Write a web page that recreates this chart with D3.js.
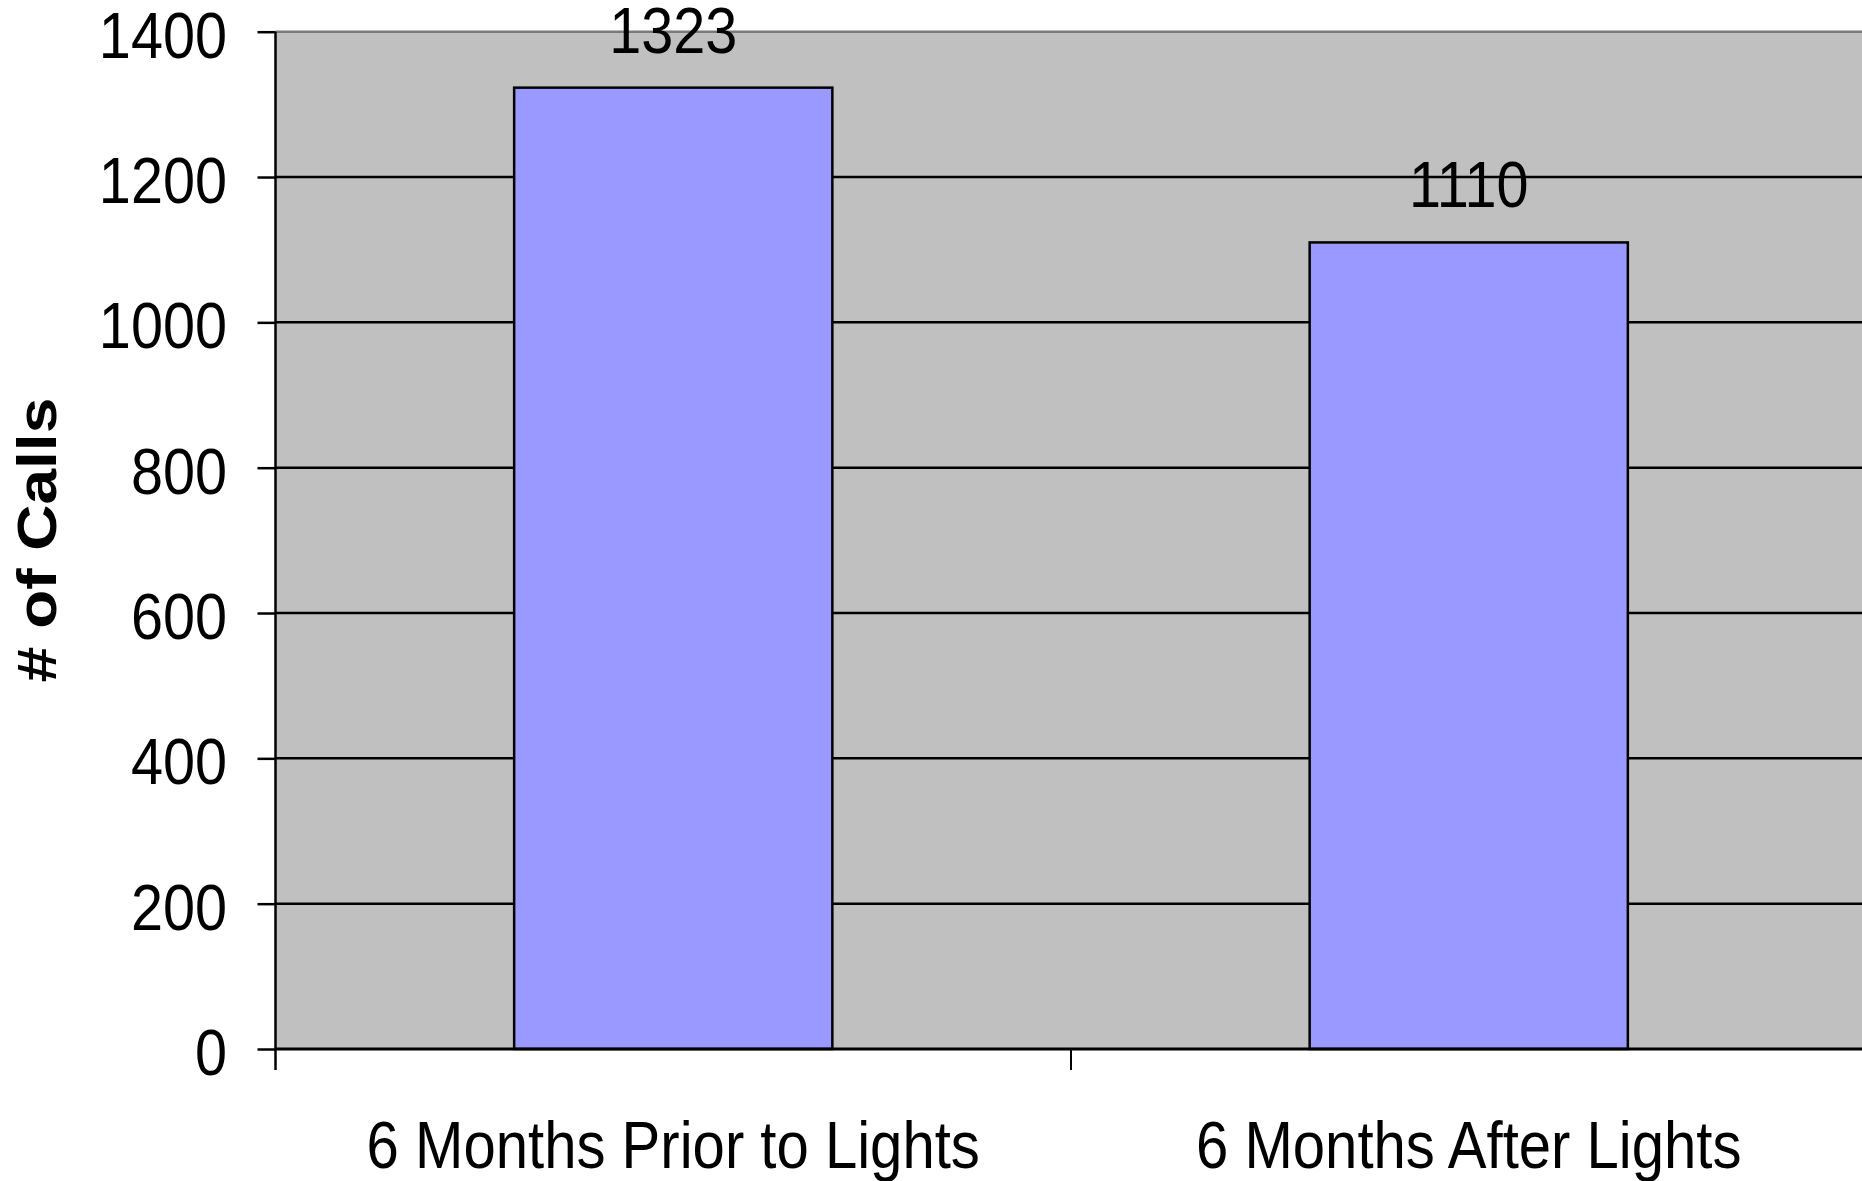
<!DOCTYPE html>
<html>
<head>
<meta charset="utf-8">
<script src="https://cdn.jsdelivr.net/npm/d3@7"></script>
<style>
  html, body { margin: 0; padding: 0; background: #fff; overflow: hidden; }
  text { font-family: Arial, "Liberation Sans", sans-serif; fill: #000; }
</style>
</head>
<body>
<div id="chart"></div>
<script>
const categories = ['6 Months Prior to Lights', '6 Months After Lights'];
const calls = [1323, 1110];
const yTicks = [0, 200, 400, 600, 800, 1000, 1200, 1400];

const W = 1862, H = 1181;
const plot = { left: 275.5, top: 31.7, bottom: 1049, right: 1866.5 };
const squeeze = 0.88;    // text in the picture is a bit narrow
const numSqueeze = 0.9;

const svg = d3.select('#chart').append('svg')
    .attr('width', W)
    .attr('height', H);

const y = d3.scaleLinear().domain([0, 1400]).range([plot.bottom, plot.top]);

// category slots (tick marks sit on slot edges)
const xCat = d3.scaleBand().domain(categories).range([plot.left, plot.right]).padding(0);

// bars inside each slot
const xBar = d3.scaleBand().domain(categories).range([plot.left, plot.right])
    .paddingInner(0.6).paddingOuter(0.3);

// plot background
svg.append('rect')
    .attr('x', plot.left).attr('y', plot.top)
    .attr('width', plot.right - plot.left).attr('height', plot.bottom - plot.top)
    .attr('fill', '#c0c0c0');

svg.append('line')
    .attr('x1', plot.left).attr('x2', plot.right)
    .attr('y1', plot.top).attr('y2', plot.top)
    .attr('stroke', '#7a7a7a').attr('stroke-width', 2.5);

// gridlines
svg.selectAll('.grid')
    .data(yTicks.filter(d => d > 0 && d < 1400))
    .enter()
    .append('line')
    .attr('class', 'grid')
    .attr('x1', plot.left).attr('x2', plot.right)
    .attr('y1', d => y(d)).attr('y2', d => y(d))
    .attr('stroke', '#000').attr('stroke-width', 2.5);

// bars
svg.selectAll('.bar')
    .data(calls)
    .enter()
    .append('rect')
    .attr('class', 'bar')
    .attr('x', (d, i) => xBar(categories[i]))
    .attr('y', d => y(d))
    .attr('width', xBar.bandwidth())
    .attr('height', d => y(0) - y(d))
    .attr('fill', '#9999ff')
    .attr('stroke', '#000')
    .attr('stroke-width', 2.5);

// value labels
svg.selectAll('.valueLabel')
    .data(calls)
    .enter()
    .append('text')
    .attr('class', 'valueLabel')
    .attr('transform', (d, i) => `translate(${xBar(categories[i]) + xBar.bandwidth() / 2},${y(d) - 35}) scale(${numSqueeze},1)`)
    .attr('text-anchor', 'middle')
    .style('font-size', '64px')
    .text(d => d);

// y axis
const yAxis = svg.append('g')
    .attr('transform', `translate(${plot.left},0)`)
    .call(d3.axisLeft(y).tickValues(yTicks).tickFormat(d3.format('d'))
        .tickSize(18).tickSizeOuter(0).tickPadding(0));

yAxis.select('.domain').remove();
yAxis.selectAll('.tick line').attr('stroke', '#000').attr('stroke-width', 2.5);
yAxis.selectAll('.tick text')
    .attr('x', null).attr('dy', null)
    .attr('transform', `translate(-48.5,25.6) scale(${numSqueeze},1)`)
    .attr('text-anchor', 'end')
    .attr('fill', '#000')
    .style('font-size', '64px')
    .style('font-family', 'Arial, "Liberation Sans", sans-serif');

// vertical axis line, running down to the category tick length
svg.append('line')
    .attr('x1', plot.left).attr('x2', plot.left)
    .attr('y1', plot.top).attr('y2', plot.bottom + 21)
    .attr('stroke', '#000').attr('stroke-width', 2.5);

// zero line
svg.append('line')
    .attr('x1', plot.left).attr('x2', plot.right)
    .attr('y1', y(0)).attr('y2', y(0))
    .attr('stroke', '#000').attr('stroke-width', 3);

// category edge ticks
svg.selectAll('.catTick')
    .data(categories.slice(1).concat(['end']))
    .enter()
    .append('line')
    .attr('class', 'catTick')
    .attr('x1', d => d === 'end' ? plot.right : xCat(d))
    .attr('x2', d => d === 'end' ? plot.right : xCat(d))
    .attr('y1', y(0)).attr('y2', y(0) + 21)
    .attr('stroke', '#000').attr('stroke-width', 2);

// category labels
svg.selectAll('.catLabel')
    .data(categories)
    .enter()
    .append('text')
    .attr('class', 'catLabel')
    .attr('transform', d => `translate(${xCat(d) + xCat.bandwidth() / 2},1168) scale(${squeeze},1)`)
    .attr('text-anchor', 'middle')
    .style('font-size', '66px')
    .text(d => d);

// y title
svg.append('text')
    .attr('transform', `translate(56,540) scale(0.86,1) rotate(-90)`)
    .attr('text-anchor', 'middle')
    .style('font-size', '64px')
    .style('font-weight', 'bold')
    .text('# of Calls');
</script>
</body>
</html>
